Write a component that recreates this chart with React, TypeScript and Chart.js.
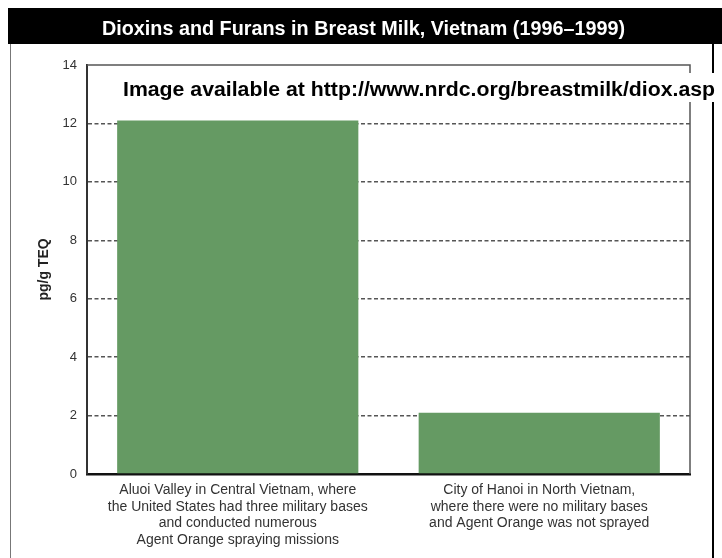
import { useEffect, useRef } from "react";
import { Chart, registerables } from "chart.js";

Chart.register(...registerables);

// Chart content
const chartTitle = "Dioxins and Furans in Breast Milk, Vietnam (1996–1999)";
const sourceNote = "Image available at http://www.nrdc.org/breastmilk/diox.asp";
const yAxisTitle = "pg/g TEQ";
const categories: string[][] = [
  [
    "Aluoi Valley in Central Vietnam, where",
    "the United States had three military bases",
    "and conducted numerous",
    "Agent Orange spraying missions",
  ],
  [
    "City of Hanoi in North Vietnam,",
    "where there were no military bases",
    "and Agent Orange was not sprayed",
  ],
];
const teqValues = [12.1, 2.1];
const yTicks = [0, 2, 4, 6, 8, 10, 12, 14];

const W = 722;
const H = 558;
const FONT = "'Liberation Sans', Arial, Helvetica, sans-serif";

// Writes a line of text starting at x, stretched or squeezed to span the given width
function fitText(ctx: CanvasRenderingContext2D, text: string, x: number, y: number, width: number) {
  const natural = ctx.measureText(text).width;
  ctx.save();
  ctx.translate(x, y);
  ctx.scale(width / natural, 1);
  ctx.textAlign = "left";
  ctx.fillText(text, 0, 0);
  ctx.restore();
}

// Draws the black heading band, the outer frame, the plot border and the source note
const decorations = {
  id: "decorations",
  beforeDraw(chart: Chart) {
    const { ctx } = chart;
    ctx.save();
    ctx.fillStyle = "#ffffff";
    ctx.fillRect(0, 0, W, H);
    // heading band
    ctx.fillStyle = "#000000";
    ctx.fillRect(8, 8, W - 8, 36);
    ctx.fillStyle = "#ffffff";
    ctx.font = `bold 19.5px ${FONT}`;
    ctx.textBaseline = "alphabetic";
    fitText(ctx, chartTitle, 102, 34.5, 523);
    // outer frame sides
    ctx.strokeStyle = "#777777";
    ctx.lineWidth = 1;
    ctx.beginPath();
    ctx.moveTo(10.5, 44);
    ctx.lineTo(10.5, H);
    ctx.stroke();
    ctx.strokeStyle = "#000000";
    ctx.lineWidth = 2;
    ctx.beginPath();
    ctx.moveTo(713, 44);
    ctx.lineTo(713, H);
    ctx.stroke();
    ctx.restore();
  },
  afterDraw(chart: Chart) {
    const { ctx, chartArea } = chart;
    ctx.save();
    // top and right edges of the plot box
    ctx.strokeStyle = "#555555";
    ctx.lineWidth = 1.5;
    ctx.beginPath();
    ctx.moveTo(chartArea.left, chartArea.top);
    ctx.lineTo(chartArea.right, chartArea.top);
    ctx.lineTo(chartArea.right, chartArea.bottom);
    ctx.stroke();
    // source note on a white strip
    ctx.fillStyle = "#ffffff";
    ctx.fillRect(120, 73, W - 120, 29);
    ctx.fillStyle = "#000000";
    ctx.font = `bold 20px ${FONT}`;
    ctx.textBaseline = "alphabetic";
    fitText(ctx, sourceNote, 123, 96, 592);
    ctx.restore();
  },
};

export default function App() {
  const canvasRef = useRef<HTMLCanvasElement | null>(null);

  useEffect(() => {
    const canvas = canvasRef.current;
    if (!canvas) return;
    const chart = new Chart(canvas, {
      type: "bar",
      data: {
        labels: categories,
        datasets: [
          {
            data: teqValues,
            backgroundColor: "#659a63",
            borderWidth: 0,
            barPercentage: 0.8,
            categoryPercentage: 1,
          },
        ],
      },
      plugins: [decorations],
      options: {
        responsive: false,
        animation: false,
        devicePixelRatio: 1,
        layout: { padding: { left: 0, top: 65, right: 32, bottom: 0 } },
        plugins: {
          legend: { display: false },
          title: { display: false },
          tooltip: { enabled: false },
        },
        scales: {
          x: {
            grid: { display: false, drawTicks: false },
            border: { display: true, color: "#111111", width: 2.5 },
            ticks: {
              color: "#333333",
              padding: 7.5,
              maxRotation: 0,
              autoSkip: false,
              font: { family: FONT, size: 14, lineHeight: 1.2 },
            },
            afterFit: (scale: any) => {
              scale.height = 84;
            },
          },
          y: {
            min: 0,
            max: 14,
            afterBuildTicks: (scale: any) => {
              scale.ticks = yTicks.map((v) => ({ value: v }));
            },
            grid: {
              drawTicks: false,
              lineWidth: 1.5,
              color: (c: any) =>
                c.tick && (c.tick.value === 0 || c.tick.value === 14)
                  ? "rgba(0,0,0,0)"
                  : "#555555",
            },
            border: { display: true, color: "#333333", width: 2, dash: [4, 2.5] },
            ticks: {
              color: "#333333",
              padding: 10,
              font: { family: FONT, size: 13 },
            },
            title: {
              display: true,
              text: yAxisTitle,
              color: "#222222",
              padding: { top: 36, bottom: 0 },
              font: { family: FONT, size: 14, weight: "bold" },
            },
            afterFit: (scale: any) => {
              scale.width = 87;
            },
          },
        },
      },
    });
    return () => chart.destroy();
  }, []);

  return (
    <div style={{ position: "fixed", left: 0, top: 0, width: W, height: H, background: "#fff" }}>
      <canvas ref={canvasRef} width={W} height={H} style={{ display: "block" }} />
    </div>
  );
}
